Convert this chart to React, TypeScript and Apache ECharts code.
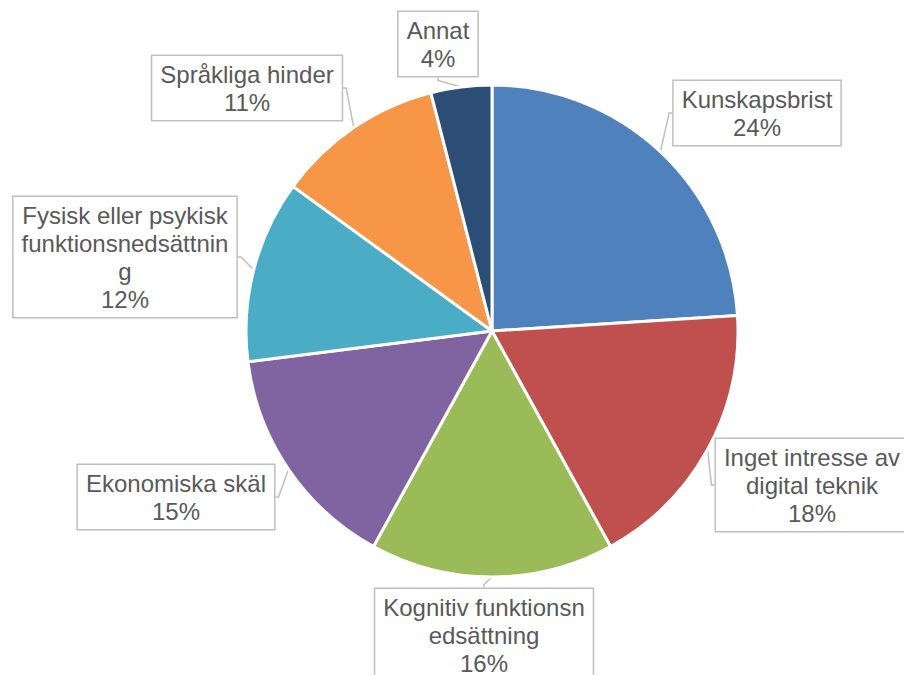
import React, { useEffect, useRef } from "react";
import * as echarts from "echarts";

const categories = [
  "Kunskapsbrist",
  "Inget intresse av digital teknik",
  "Kognitiv funktionsnedsättning",
  "Ekonomiska skäl",
  "Fysisk eller psykisk funktionsnedsättning",
  "Språkliga hinder",
  "Annat",
];
const displayLabels = [
  "Kunskapsbrist",
  "Inget intresse av\ndigital teknik",
  "Kognitiv funktionsn\nedsättning",
  "Ekonomiska skäl",
  "Fysisk eller psykisk\nfunktionsnedsättnin\ng",
  "Språkliga hinder",
  "Annat",
];
const values = [24, 18, 16, 15, 12, 11, 4];
const colors = ["#4F81BD", "#C0504D", "#9BBB59", "#8064A2", "#4BACC6", "#F79646", "#2C4D75"];

// label box centres (layout only)
const labelCenters: [number, number][] = [
  [757, 113],
  [812, 485],
  [484, 635],
  [176, 497],
  [125, 257],
  [247, 88],
  [438, 44],
];

export default function App() {
  const ref = useRef<HTMLDivElement>(null);
  useEffect(() => {
    document.body.style.margin = "0";
    const chart = echarts.init(ref.current!, null, { renderer: "svg" });
    chart.setOption({
      animation: false,
      backgroundColor: "#ffffff",
      textStyle: { fontFamily: "Liberation Sans, Arial, sans-serif" },
      series: [
        {
          type: "pie",
          center: [492, 331],
          radius: 246,
          startAngle: 90,
          clockwise: true,
          avoidLabelOverlap: false,
          itemStyle: { borderColor: "#ffffff", borderWidth: 3 },
          label: {
            show: true,
            position: "outside",
            formatter: (p: any) => `${displayLabels[p.dataIndex]}\n${Math.round(p.percent)}%`,
            color: "#595959",
            fontSize: 24,
            lineHeight: 28,
            align: "center",
            fontFamily: "Liberation Sans, Arial, sans-serif",
            backgroundColor: "#ffffff",
            borderColor: "#BFBFBF",
            borderWidth: 1.5,
            padding: [4, 8, 4, 8],
          },
          labelLine: {
            show: true,
            length: 3,
            length2: 3,
            smooth: false,
            lineStyle: { color: "#BFBFBF", width: 1.5 },
          },
          labelLayout: (params: any) => {
            const c = labelCenters[params.dataIndex];
            return {
              x: c[0],
              y: c[1],
              align: "center",
              verticalAlign: "middle",
            };
          },
          data: categories.map((name, i) => ({
            name,
            value: values[i],
            itemStyle: { color: colors[i] },
          })),
        },
      ],
    });
    return () => chart.dispose();
  }, []);
  return <div ref={ref} style={{ width: 904, height: 675, overflow: "hidden" }} />;
}
